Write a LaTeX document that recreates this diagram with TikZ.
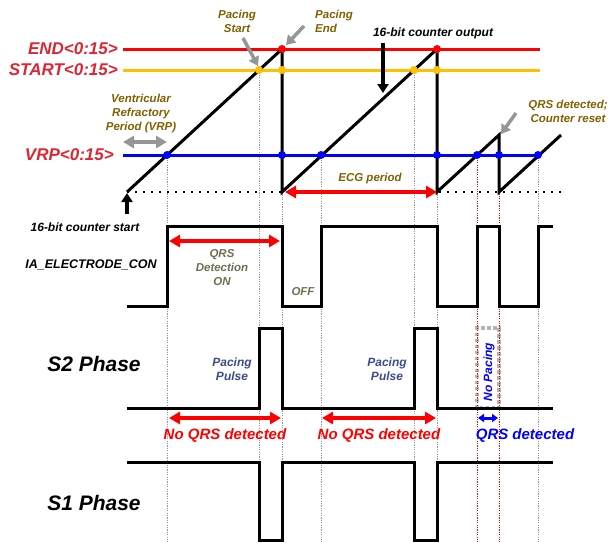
\documentclass[tikz,border=0pt]{standalone}
\usepackage{fontspec}
\setmainfont{Liberation Sans}
\usetikzlibrary{arrows.meta}

\definecolor{endred}{RGB}{255,0,0}
\definecolor{startyel}{RGB}{255,192,0}
\definecolor{vrpblue}{RGB}{0,0,255}
\definecolor{namered}{RGB}{220,38,52}
\definecolor{olivetxt}{RGB}{128,96,0}
\definecolor{greyolive}{RGB}{110,110,80}
\definecolor{slatetxt}{RGB}{60,75,140}
\definecolor{guidegrey}{RGB}{150,150,150}
\definecolor{boxgrey}{RGB}{180,180,180}

\tikzset{
  sig/.style={line width=3pt, line join=miter},
  rail/.style={line width=3pt},
  guide/.style={line width=0.7pt, guidegrey, dash pattern=on 1.2pt off 1.2pt},
  railname/.style={inner sep=0pt, text=namered, font=\bfseries\itshape\fontsize{17}{20}\selectfont},
  phasename/.style={inner sep=0pt, font=\bfseries\itshape\fontsize{21}{25}\selectfont},
  signame/.style={inner sep=0pt, font=\bfseries\itshape\fontsize{12.5}{15}\selectfont},
  note/.style={inner sep=0pt, align=center, text=olivetxt, font=\bfseries\itshape\fontsize{11.5}{14}\selectfont},
  detect/.style={inner sep=0pt, font=\bfseries\itshape\fontsize{15}{18}\selectfont},
  span/.style={line width=4pt, {Triangle[length=11pt,width=12pt]}-{Triangle[length=11pt,width=12pt]}},
  pointer/.style={line width=3.5pt, guidegrey, -{Triangle[length=9pt,width=11pt]}},
  dot/.style={circle, inner sep=0pt, minimum size=8pt}
}

\begin{document}
\begin{tikzpicture}[x=1pt, y=-1pt]
  \useasboundingbox (0,0) rectangle (609,542);

  % time marks
  \def\tZ{127} \def\tA{167} \def\tB{259} \def\tC{282} \def\tD{321}
  \def\tE{414} \def\tF{437} \def\tG{477} \def\tH{499} \def\tI{538} \def\tJ{553}

  % no pacing box (under the guides)
  \draw[boxgrey, line width=3.5pt, dash pattern=on 3.5pt off 2.5pt] (\tG,408) rectangle (\tH,328);

  % guide lines
  \foreach \x/\y in {\tA/155, \tB/70, \tC/192, \tD/155, \tE/70, \tF/192, \tI/155}
    \draw[guide] (\x,\y) -- (\x,542);
  \foreach \x in {\tG, \tH}
    \draw[guide, red] (\x,155) -- (\x,542);

  % threshold rails
  \draw[rail, endred] (123,49) -- (540,49);
  \draw[rail, startyel] (123,70) -- (540,70);
  \draw[rail, vrpblue] (123,155) -- (540,155);
  \draw[line width=1.6pt, dash pattern=on 1.6pt off 6.4pt] (\tZ,192) -- (563,192);

  \node[railname, anchor=east] (endlbl) at (118,49) {END<0:15>};
  \node[railname, anchor=east] (startlbl) at (118,70) {START<0:15>};
  \node[railname, anchor=east] (vrplbl) at (114,155) {VRP<0:15>};

  % counter output
  \draw[sig] (\tZ,192) -- (\tC,49) -- (\tC,192) -- (\tF,49) -- (\tF,192)
    -- (\tH,135) -- (\tH,192) -- (561,135);

  \foreach \x in {\tC, \tF}
    \node[dot, fill=endred] at (\x,49) {};
  \foreach \x in {\tB, \tC, \tE, \tF}
    \node[dot, fill=startyel] at (\x,70) {};
  \foreach \x in {\tA, \tC, \tD, \tF, \tG, \tH, \tI}
    \node[dot, fill=vrpblue] at (\x,155) {};

  % notes on the counter
  \node[note] (pstart) at (237,21) {Pacing\\Start};
  \node[note, align=left, anchor=west] (pend) at (315,21) {Pacing\\End};
  \node[note] (reset) at (568,111) {QRS detected;\\Counter reset};
  \node[note] (vrpnote) at (141,114) {Ventricular\\Refractory\\Period (VRP)};
  \node[note] (ecg) at (370,179) {ECG period};
  \node[signame, font=\bfseries\itshape\fontsize{12}{14}\selectfont] (cntout) at (433,33) {16-bit counter output};
  \node[signame, font=\bfseries\itshape\fontsize{12}{14}\selectfont] (cntstart) at (85,227) {16-bit counter start};

  \coordinate (pstartA) at (243,38);
  \coordinate (pstartB) at (258,66);
  \coordinate (pendA) at (304,26);
  \coordinate (pendB) at (286,45);
  \coordinate (resetA) at (516,113);
  \coordinate (resetB) at (501,134);
  \coordinate (outA) at (383,43);
  \coordinate (outB) at (383,93);
  \coordinate (startA) at (\tZ,214);
  \coordinate (startB) at (\tZ,193);

  \draw[pointer] (pstartA) -- (pstartB);
  \draw[pointer] (pendA) -- (pendB);
  \draw[pointer] (resetA) -- (resetB);
  \draw[pointer, black] (outA) -- (outB);
  \draw[pointer, black] (startA) -- (startB);
  \draw[span, guidegrey] (123,142) -- (167,142);
  \draw[span, red] (285,192) -- (437,192);

  % IA_ELECTRODE_CON
  \node[signame] (ialbl) at (91,265) {IA\_ELECTRODE\_CON};
  \draw[sig] (\tZ,306) -- (\tA,306) -- (\tA,226) -- (\tC,226) -- (\tC,306)
    -- (\tD,306) -- (\tD,226) -- (\tF,226) -- (\tF,306) -- (\tG,306)
    -- (\tG,226) -- (\tH,226) -- (\tH,306) -- (\tI,306) -- (\tI,226) -- (\tJ,226);
  \draw[span, red] (169,241) -- (280,241);
  \node[note, text=greyolive] (qrson) at (222,268) {QRS\\Detection\\ON};
  \node[note, text=greyolive] (off) at (303,292) {OFF};

  % S2 phase
  \node[phasename] (s2lbl) at (94,364) {S2 Phase};
  \draw[sig] (\tZ,408) -- (\tB,408) -- (\tB,328) -- (\tC,328) -- (\tC,408)
    -- (\tE,408) -- (\tE,328) -- (\tF,328) -- (\tF,408) -- (\tJ,408);
  \node[note, text=slatetxt, font=\bfseries\itshape\fontsize{12}{14}\selectfont] (pulseA) at (232,369) {Pacing\\Pulse};
  \node[note, text=slatetxt, font=\bfseries\itshape\fontsize{12}{14}\selectfont] (pulseB) at (387,369) {Pacing\\Pulse};
  \node[note, text=vrpblue, rotate=90, font=\bfseries\itshape\fontsize{12}{14}\selectfont] (nopace) at (489,372) {No Pacing};

  \draw[span, red] (169,418) -- (281,418);
  \draw[span, red] (322,418) -- (436,418);
  \draw[line width=3pt, vrpblue, {Triangle[length=6pt,width=8pt]}-{Triangle[length=6pt,width=8pt]}] (478,418) -- (498,418);
  \node[detect, text=red] (noqrsA) at (225,436) {No QRS detected};
  \node[detect, text=red] (noqrsB) at (379,436) {No QRS detected};
  \node[detect, text=vrpblue] (qrs) at (525,436) {QRS detected};

  % S1 phase
  \node[phasename] (s1lbl) at (94,503) {S1 Phase};
  \draw[sig] (\tZ,462) -- (\tB,462) -- (\tB,540) -- (\tC,540) -- (\tC,462)
    -- (\tE,462) -- (\tE,540) -- (\tF,540) -- (\tF,462) -- (\tJ,462);
\end{tikzpicture}
\end{document}
